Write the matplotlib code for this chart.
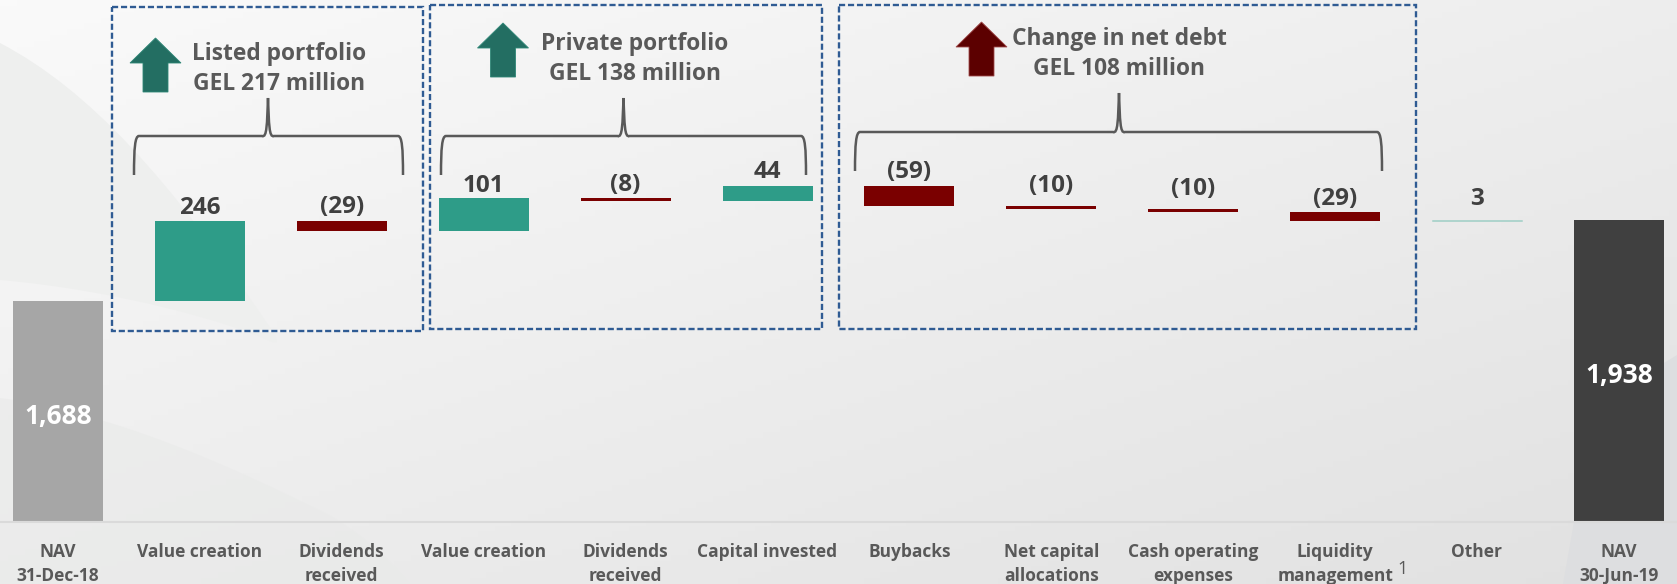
import numpy as np
import matplotlib
matplotlib.use("Agg")
import matplotlib.pyplot as plt
from matplotlib.patches import PathPatch, Rectangle, Polygon
from matplotlib.path import Path
from matplotlib.transforms import Affine2D

categories = ["NAV\n31-Dec-18", "Value creation", "Dividends\nreceived", "Value creation",
              "Dividends\nreceived", "Capital invested", "Buybacks", "Net capital\nallocations",
              "Cash operating\nexpenses", "Liquidity\nmanagement", "Other", "NAV\n30-Jun-19"]
opening_nav = 1688
closing_nav = 1938
deltas = [246, -29, 101, -8, 44, -59, -10, -10, -29, 3]
delta_labels = ["246", "(29)", "101", "(8)", "44", "(59)", "(10)", "(10)", "(29)", "3"]
label_gaps = [13, 14, 12, 13, 14, 14, 20, 20, 13, 21]

TEAL, RED, GREY, DARK = "#2E9C88", "#7A0000", "#A6A6A6", "#404040"
W, H = 1677, 584
plt.rcParams["font.family"] = ["Open Sans", "DejaVu Sans"]

fig = plt.figure(figsize=(W / 100, H / 100), dpi=100)
px = Affine2D().scale(1, -1).translate(0, H)

# background
bg = fig.add_axes([0, 0, 1, 1], zorder=0)
bg.axis("off")
xx, yy = np.meshgrid(np.linspace(0, 1, 200), np.linspace(0, 1, 100))
bg.imshow(0.5 * xx + 0.5 * yy, cmap=matplotlib.colors.LinearSegmentedColormap.from_list(
    "g", ["#FAFAFA", "#E1E1E1"]), extent=(0, 1, 0, 1), origin="upper", aspect="auto", vmin=0, vmax=1)
bg.set_xlim(0, 1); bg.set_ylim(0, 1)
C4 = Path.CURVE4
swoosh1 = Path([(0, 43), (90, 90), (170, 180), (267, 323), (275, 335), (282, 345), (272, 342),
                (233, 323), (117, 290), (0, 280), (0, 43)],
               [Path.MOVETO, C4, C4, C4, C4, C4, C4, C4, C4, C4, Path.CLOSEPOLY])
fig.add_artist(PathPatch(swoosh1, fc="#EEEFEE", ec="none", transform=px, zorder=0.5))
swoosh2 = Path([(0, 398), (110, 412), (230, 465), (333, 517), (370, 540), (395, 565), (410, 584), (0, 584), (0, 398)],
               [Path.MOVETO, C4, C4, C4, C4, C4, C4, Path.LINETO, Path.CLOSEPOLY])
fig.add_artist(PathPatch(swoosh2, fc="#E9EAE9", ec="none", alpha=0.6, transform=px, zorder=0.5))
fig.add_artist(Polygon([(1563, 584), (1574, 522), (1620, 420), (1664, 363), (1677, 355), (1677, 584)],
                       fc="#DDDEE0", ec="none", transform=px, zorder=0.5))

# main axes: baseline at pixel row 522
ax = fig.add_axes([0, (H - 522) / H, 1, 522 / H], zorder=2)
ax.patch.set_alpha(0)
per_px = 1 / 0.3235
step = 141.9
ax.set_ylim(opening_nav - (522 - 301) * per_px, opening_nav + 301 * per_px)
ax.set_xlim(-58 / step, (W - 58) / step)
base = ax.get_ylim()[0]
x = np.arange(len(categories))
bw = 90 / step

ax.bar(0, opening_nav - base, bottom=base, width=bw, color=GREY)
ax.bar(11, closing_nav - base, bottom=base, width=bw, color=DARK)
level = opening_nav
for i, (d, lab, gap) in enumerate(zip(deltas, delta_labels, label_gaps), start=1):
    col = TEAL if d > 0 else RED
    ax.bar(i, d, bottom=level, width=bw, color=col, ec="#BFDDD7" if d == 3 else "none", lw=0.5)
    top = max(level, level + d)
    ax.annotate(lab, (i, top), xytext=(0, gap * 0.72), textcoords="offset points", ha="center", va="center",
                fontsize=17.5, fontweight="bold", color="#404040")
    level += d
for i, v in zip((0, 11), (opening_nav, closing_nav)):
    ax.annotate(f"{v:,}", (i, (v + base) / 2), xytext=(0, -3.5), textcoords="offset points", ha="center", va="center",
                fontsize=19, fontweight="bold", color="white")

ax.set_yticks([])
for s in ("top", "left", "right"):
    ax.spines[s].set_visible(False)
ax.spines["bottom"].set_color("#DADADA")
ax.spines["bottom"].set_linewidth(1.5)
ax.set_xticks(x)
ax.set_xticklabels(categories, fontsize=12.5, fontweight="bold", color="#595959", linespacing=1.4, va="top")
ax.tick_params(axis="x", length=0, pad=15.2)

fig.text(1403 / W, 1 - 569 / H, "1", fontsize=13, color="#595959", ha="center", va="center", zorder=3)

# overlay annotation groups (px coordinates of the slide layout)
def box(x0, y0, x1, y1):
    fig.add_artist(Rectangle((x0, y0), x1 - x0, y1 - y0, fc="none", ec="#2F5B93", lw=1.7,
                             ls=(0, (2.6, 1.2)), transform=px, zorder=3))

def arrow(cx, top, col, edge):
    shoulder, bottom = top + 25, top + 54
    fig.add_artist(Polygon([(cx, top), (cx + 25.5, shoulder), (cx + 12.5, shoulder), (cx + 12.5, bottom),
                            (cx - 12.5, bottom), (cx - 12.5, shoulder), (cx - 25.5, shoulder)],
                           fc=col, ec=edge, lw=0.6, transform=px, zorder=3))

def brace(x0, xm, x1, ytip, ybar, yend):
    verts = [(x0, yend), (x0, ybar + 12), (x0 + 1, ybar), (x0 + 5, ybar), (xm - 6, ybar),
             (xm - 1, ybar + 2), (xm - 1, ybar - 12), (xm, ytip), (xm + 1, ybar - 12), (xm + 1, ybar + 2),
             (xm + 6, ybar), (x1 - 5, ybar), (x1 - 1, ybar), (x1, ybar + 12), (x1, yend)]
    codes = [Path.MOVETO, C4, C4, C4, Path.LINETO, C4, C4, C4, C4, C4, C4, Path.LINETO, C4, C4, C4]
    fig.add_artist(PathPatch(Path(verts, codes), fc="none", ec="#595959", lw=1.8, transform=px, zorder=3))

def title(cx, cy, s):
    fig.text(cx / W, 1 - cy / H, s, fontsize=16.4, fontweight="bold", color="#595959",
             ha="center", va="center", linespacing=1.38, zorder=3)

box(112, 7, 423, 331); box(430, 5, 822, 329); box(839, 5, 1415.5, 329)
arrow(155.5, 38, "#236E62", "#2E8676")
arrow(503, 23, "#236E62", "#2E8676")
arrow(981.5, 22, "#5C0000", "#A04A4A")
brace(134, 268, 403, 98, 136, 175)
brace(441, 623.5, 806, 98, 136, 175)
brace(855, 1119, 1382, 93, 132, 171)
title(279, 69, "Listed portfolio\nGEL 217 million")
title(634.7, 59, "Private portfolio\nGEL 138 million")
title(1119, 54, "Change in net debt\nGEL 108 million")

fig.savefig("out.png", dpi=100)
